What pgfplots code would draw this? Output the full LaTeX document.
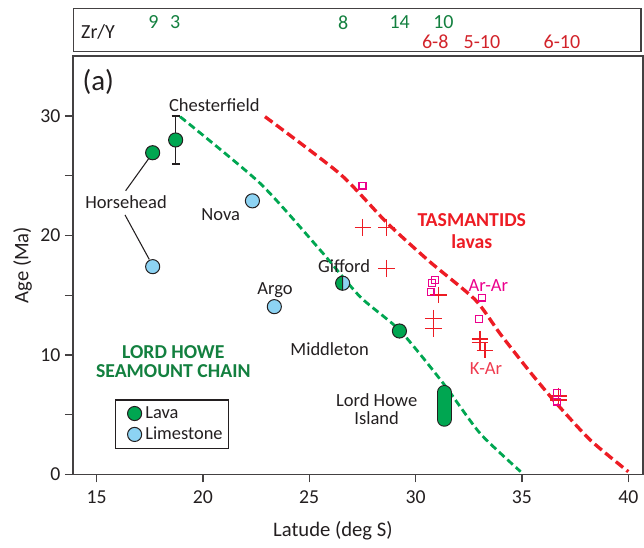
\documentclass[border=0pt]{standalone}
\usepackage{fontspec}
\setmainfont{Carlito}
\usepackage{pgfplots}
\pgfplotsset{compat=1.18}
\definecolor{lavagreen}{HTML}{00A651}
\definecolor{limeblue}{HTML}{8DD3F3}
\definecolor{dkgreen}{HTML}{13803F}
\definecolor{tasred}{HTML}{ED1C24}
\definecolor{zrred}{HTML}{D2232A}
\definecolor{mag}{HTML}{EC008C}
\definecolor{kar}{HTML}{EF3B4F}
\definecolor{txt}{HTML}{231F20}
\pgfdeclareplotmark{halfcirc}{%
  \pgfpathmoveto{\pgfpoint{0pt}{\pgfplotmarksize}}%
  \pgfpatharc{90}{270}{\pgfplotmarksize}%
  \pgfpathclose
  \pgfsetfillcolor{lavagreen}%
  \pgfusepath{fill}%
  \pgfpathmoveto{\pgfpoint{0pt}{-\pgfplotmarksize}}%
  \pgfpatharc{270}{450}{\pgfplotmarksize}%
  \pgfpathclose
  \pgfsetfillcolor{limeblue}%
  \pgfusepath{fill}%
  \pgfpathcircle{\pgfpointorigin}{\pgfplotmarksize}%
  \pgfpathmoveto{\pgfpoint{0pt}{\pgfplotmarksize}}%
  \pgfpathlineto{\pgfpoint{0pt}{-\pgfplotmarksize}}%
  \pgfusepath{stroke}%
}
\newcommand{\lblfont}{\fontsize{13.9}{14}\selectfont}
\newcommand{\bldfont}{\fontsize{14.8}{14}\selectfont\bfseries}
\begin{document}
\begin{tikzpicture}
\begin{axis}[name=main, at={(0,0)}, anchor=south west, scale only axis,
  width=427.5pt, height=313.7pt,
  xmin=13.895, xmax=40.69, ymin=0, ymax=35.03,
  xtick={15,20,...,40}, ytick={0,5,...,30}, yticklabels={0,,10,,20,,30},
  tick align=outside, xtick pos=left, ytick pos=left, major tick length=6pt,
  axis line style={line width=1pt, txt!85},
  every tick/.style={line width=1pt, txt!85},
  tick label style={font=\fontsize{14.8}{16}\selectfont, text=txt},
  xticklabel style={yshift=-3pt},
  /pgf/number format/assume math mode=true,
  xlabel={Latude (deg S)}, ylabel={Age (Ma)},
  label style={font=\fontsize{15.5}{17}\selectfont, text=txt},
  xlabel style={at={(axis description cs:0.456,-0.1355)}, anchor=center},
  ylabel style={at={(axis description cs:-0.0886,0.5)}, anchor=center},
  clip=false,
  legend style={at={(axis cs:15.87,6.28)}, anchor=north west, draw=txt, line width=1pt, fill=white,
    font=\fontsize{13.8}{15}\selectfont, text=txt, inner xsep=2.5pt, inner ysep=3pt, row sep=1pt},
  legend cell align=left,
  legend image code/.code={\path[draw=none,fill=none] (0.3cm-11.7pt,0pt) -- (0.3cm+6pt,0pt);\draw[#1] plot coordinates {(0.3cm,0cm)};},
]
% Lord Howe seamount chain trend
\addplot[forget plot, lavagreen, line width=2.1pt, dash pattern=on 5.5pt off 3pt, smooth, tension=0.4] coordinates {
 (18.93,29.95) (22.69,24.37) (25.51,18.79) (27.39,14.87) (29.27,12.03) (31.30,7.62) (33.03,3.43) (34.94,0.22)};
% Tasmantid trend
\addplot[forget plot, tasred, line width=2.5pt, dash pattern=on 7pt off 3.3pt, smooth, tension=0.4] coordinates {
 (22.92,29.95) (26.45,25.15) (28.66,21.05) (30.68,17.78) (32.80,14.62) (33.97,11.78) (35.38,8.57) (36.56,6.06) (38.21,2.87) (40.0,0.22)};
% Horsehead connectors
\addplot[forget plot, txt, line width=0.8pt] coordinates {(16.37,23.75) (17.52,26.6)};
\addplot[forget plot, txt, line width=0.8pt] coordinates {(16.34,21.72) (17.48,18.0)};
% K-Ar crosses
\addplot[forget plot, only marks, mark=+, mark size=6.25pt, mark options={tasred, line width=0.9pt}] coordinates {
 (27.52,20.69) (28.64,20.69) (28.64,17.25) (31.07,15.02) (30.83,13.07) (30.83,12.23)
 (33.03,11.33) (33.03,11.06) (33.26,10.4) (36.71,6.56) (36.71,6.22)};
% Ar-Ar squares
\addplot[forget plot, only marks, mark=square, mark size=2.6pt, mark options={mag, line width=1pt}] coordinates {
 (27.5,24.17) (30.91,16.27) (30.76,16.0) (30.71,15.29) (33.11,14.79) (32.98,13.0) (36.64,6.83) (36.66,6.08)};
% Chesterfield error bar
\addplot[forget plot, only marks, mark=none, error bars/.cd, y dir=both, y explicit,
  error bar style={txt, line width=1pt}, error mark options={rotate=90, txt, line width=1pt, mark size=3pt}]
  coordinates {(18.72,28.0) +- (0,2.0)};
% Lava
\addplot[only marks, mark=*, mark size=5.3pt, mark options={draw=txt, fill=lavagreen, line width=0.75pt}] coordinates {
 (17.64,26.93) (18.72,28.0) (29.24,12.0)};
\addlegendentry{Lava}
% Limestone
\addplot[only marks, mark=*, mark size=5.3pt, mark options={draw=txt, fill=limeblue, line width=0.75pt}] coordinates {
 (17.64,17.39) (22.33,22.9) (23.36,14.04)};
\addlegendentry{Limestone}
% Gifford (lava + limestone)
\addplot[forget plot, only marks, mark=halfcirc, mark size=5.3pt, mark options={draw=txt, line width=0.75pt}] coordinates {(26.57,16.0)};
% Lord Howe Island range
\addplot[forget plot, txt, line width=11.25pt, line cap=round] coordinates {(31.34,4.61) (31.34,6.85)};
\addplot[forget plot, lavagreen, line width=9.75pt, line cap=round] coordinates {(31.34,4.61) (31.34,6.85)};
% labels
\node[font=\fontsize{21.7}{24}\selectfont, text=txt] at (axis cs:15.08,32.88) {(a)};
\node[font=\lblfont, text=txt] at (axis cs:20.54,30.95) {Chesterfield};
\node[font=\lblfont, text=txt] at (axis cs:16.39,22.83) {Horsehead};
\node[font=\lblfont, text=txt] at (axis cs:20.84,21.72) {Nova};
\node[font=\lblfont, text=txt] at (axis cs:26.64,17.45) {Gifford};
\node[font=\lblfont, text=txt] at (axis cs:23.39,15.44) {Argo};
\node[font=\lblfont, text=txt] at (axis cs:25.96,10.47) {Middleton};
\node[font=\lblfont, text=txt, align=center] at (axis cs:28.17,5.45) {Lord Howe\\Island};
\node[font=\bldfont, text=dkgreen, align=center] at (axis cs:18.61,9.46) {LORD HOWE\\SEAMOUNT CHAIN};
\node[font=\fontsize{14.8}{16.3}\selectfont\bfseries, text=tasred, align=center] at (axis cs:32.64,20.38) {TASMANTIDS\\lavas};
\node[font=\lblfont, text=mag] at (axis cs:33.42,15.77) {Ar-Ar};
\node[font=\lblfont, text=kar] at (axis cs:33.31,8.88) {K-Ar};
\end{axis}
\begin{axis}[at={(0.2pt,316.95pt)}, anchor=south west, scale only axis,
  width=425.8pt, height=32.55pt, xmin=13.895, xmax=40.585, ymin=0, ymax=1,
  xtick=\empty, ytick=\empty, axis line style={line width=1pt, txt!85}, clip=false]
\node[font=\fontsize{15}{17}\selectfont, text=txt] at (axis cs:15.06,0.447) {Zr/Y};
\node[font=\fontsize{15}{17}\selectfont, text=dkgreen] at (axis cs:17.67,0.677) {9};
\node[font=\fontsize{15}{17}\selectfont, text=dkgreen] at (axis cs:18.69,0.677) {3};
\node[font=\fontsize{15}{17}\selectfont, text=dkgreen] at (axis cs:26.59,0.677) {8};
\node[font=\fontsize{15}{17}\selectfont, text=dkgreen] at (axis cs:29.24,0.677) {14};
\node[font=\fontsize{15}{17}\selectfont, text=dkgreen] at (axis cs:31.30,0.677) {10};
\node[font=\fontsize{15}{17}\selectfont, text=zrred] at (axis cs:30.91,0.23) {6-8};
\node[font=\fontsize{15}{17}\selectfont, text=zrred] at (axis cs:33.11,0.23) {5-10};
\node[font=\fontsize{15}{17}\selectfont, text=zrred] at (axis cs:36.87,0.23) {6-10};
\end{axis}
\pgfresetboundingbox
\path[use as bounding box] (-54.75pt,-55.275pt) rectangle (428.25pt,355.725pt);
\end{tikzpicture}
\end{document}
